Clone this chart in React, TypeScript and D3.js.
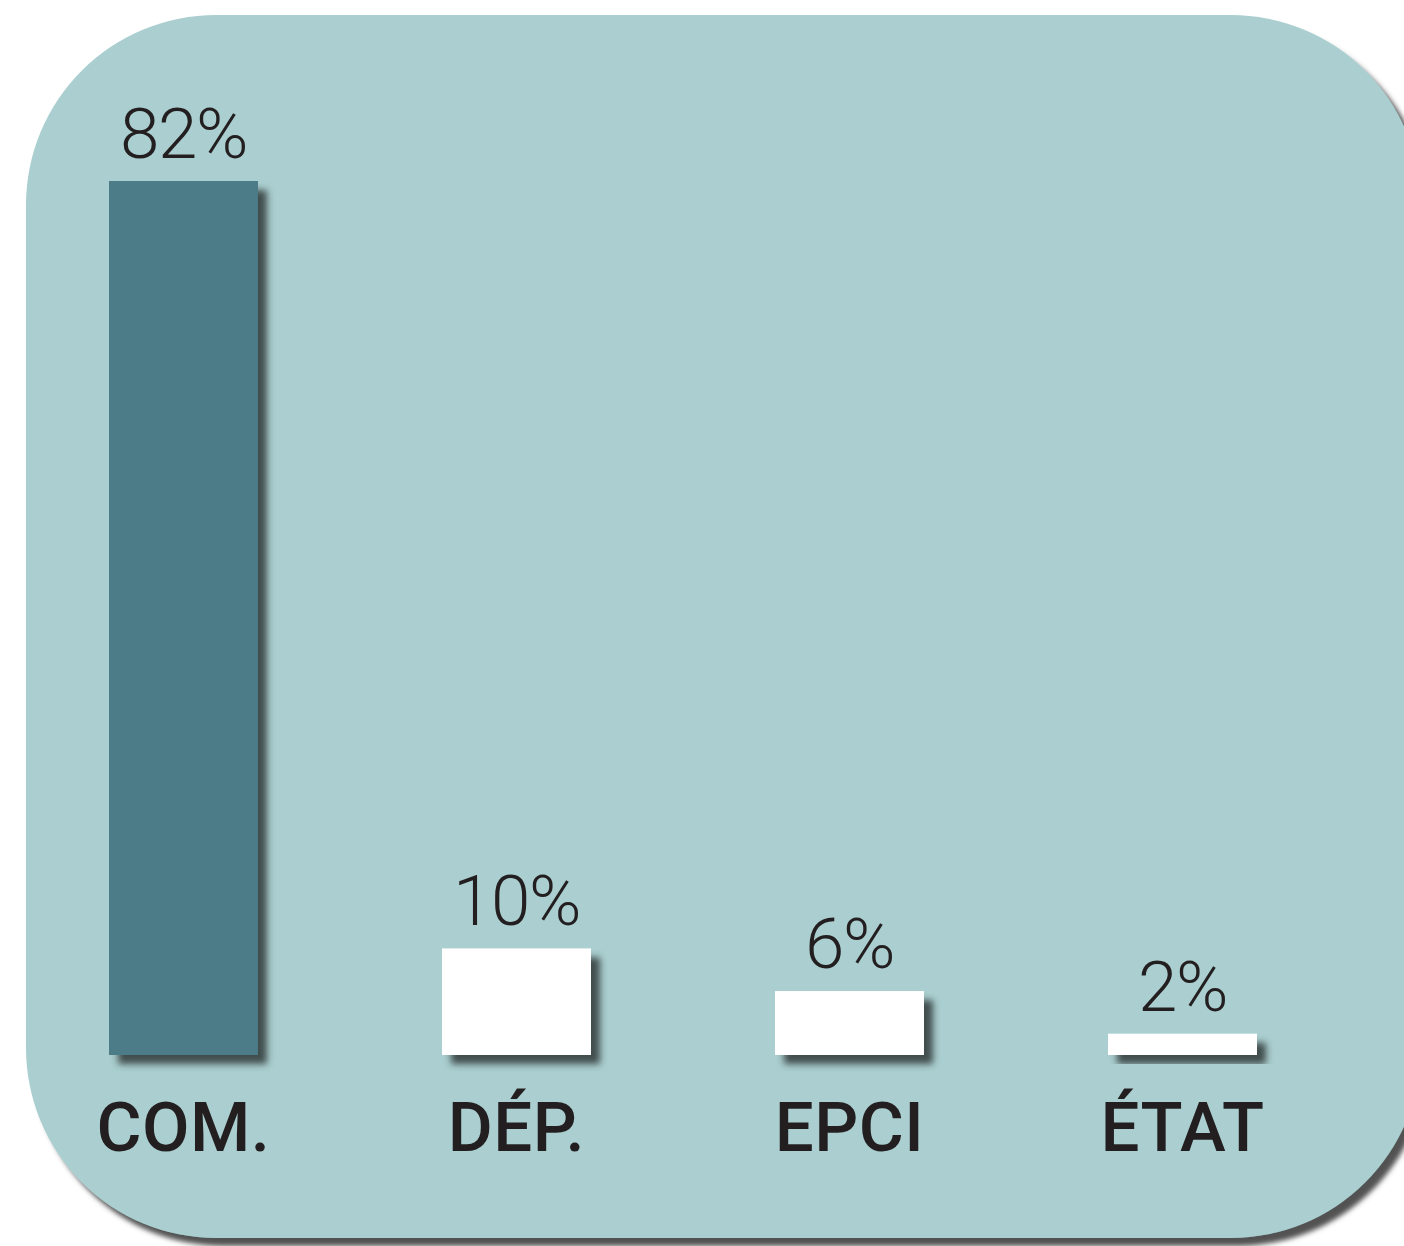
import * as d3 from "d3";

const width = 1404;
const height = 1246;

// categories and shares (%)
const categories = ["COM.", "DÉP.", "EPCI", "ÉTAT"];
const shares = [82, 10, 6, 2];
const valueLabels = ["82%", "10%", "6%", "2%"];
const barColors = ["#4b7b87", "#ffffff", "#ffffff", "#ffffff"];

const baseY = 1055;

export default function App() {
  const x = d3.scaleBand<string>()
    .domain(categories)
    .range([109, 1257])
    .paddingInner(0.5526)
    .paddingOuter(0);

  const y = d3.scaleLinear().domain([0, 82]).range([baseY, 181]);

  // ── Background panel (rounded, right side runs off the page) ──
  const panel = { x: 26, y: 15, w: 1395, h: 1223, r: 190 };

  return (
    <svg
      width={width}
      height={height}
      viewBox={`0 0 ${width} ${height}`}
      style={{ position: "absolute", left: 0, top: 0, background: "#fff" }}
    >
      <defs>
        <filter id="panelShadow" x="-5%" y="-5%" width="115%" height="115%">
          <feDropShadow dx={7} dy={8} stdDeviation={2.5} floodColor="#4a4a4a" floodOpacity={0.95} />
        </filter>
        <filter id="barShadow" x="-20%" y="-20%" width="160%" height="160%">
          <feDropShadow dx={9} dy={9} stdDeviation={3.5} floodColor="#2f3535" floodOpacity={0.85} />
        </filter>
      </defs>

      <rect
        x={panel.x}
        y={panel.y}
        width={panel.w}
        height={panel.h}
        rx={panel.r}
        ry={panel.r}
        fill="#abcfd0"
        filter="url(#panelShadow)"
      />

      {categories.map((c, i) => {
        const bx = x(c)!;
        const by = y(shares[i]);
        const cx = bx + x.bandwidth() / 2;
        return (
          <g key={c}>
            <rect
              x={bx}
              y={by}
              width={x.bandwidth()}
              height={baseY - by}
              fill={barColors[i]}
              filter="url(#barShadow)"
            />
            <text
              x={cx}
              y={by - 23}
              textAnchor="middle"
              fontFamily="Roboto, 'DejaVu Sans', sans-serif"
              fontWeight={300}
              fontSize={71}
              fill="#231f20"
              style={{ letterSpacing: "-1.5px" }}
            >
              {valueLabels[i]}
            </text>
            <text
              x={cx}
              y={1151}
              textAnchor="middle"
              fontFamily="Roboto, 'DejaVu Sans', sans-serif"
              fontWeight={500}
              fontSize={69}
              fill="#231f20"
              style={{ letterSpacing: "0.5px" }}
            >
              {c}
            </text>
          </g>
        );
      })}
    </svg>
  );
}
